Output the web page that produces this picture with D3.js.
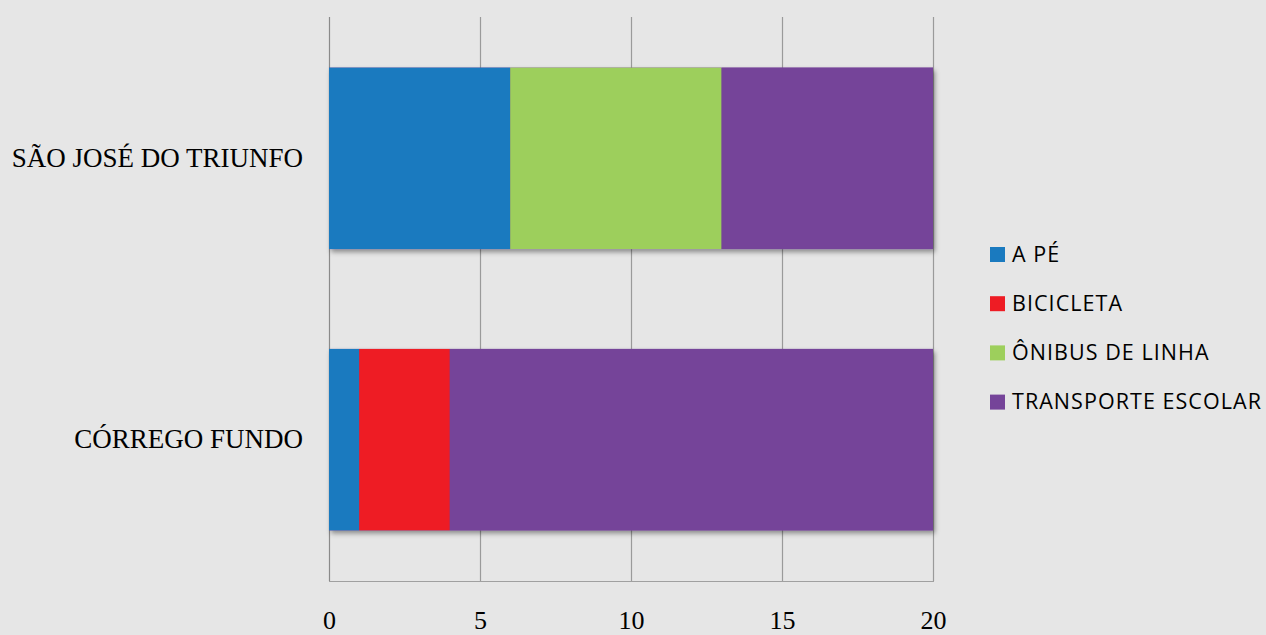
<!DOCTYPE html>
<html>
<head>
<meta charset="utf-8">
<script src="https://cdn.jsdelivr.net/npm/d3@7"></script>
<style>
  html, body { margin: 0; padding: 0; background: #e6e6e6; }
  svg { display: block; }
</style>
</head>
<body>
<svg id="chart" width="1266" height="635"></svg>
<script>
// Locations (top to bottom) and how students get to school
const categories = ["SÃO JOSÉ DO TRIUNFO", "CÓRREGO FUNDO"];
const seriesNames = ["A PÉ", "BICICLETA", "ÔNIBUS DE LINHA", "TRANSPORTE ESCOLAR"];
const seriesColors = ["#1a7abf", "#ee1c24", "#9dcf5c", "#754499"];
// Values per series, in the order of categories
const aPe = [6, 1];
const bicicleta = [0, 3];
const onibusDeLinha = [7, 0];
const transporteEscolar = [7, 16];
const xTicks = [0, 5, 10, 15, 20];

const seriesValues = [aPe, bicicleta, onibusDeLinha, transporteEscolar];
const rows = categories.map((c, i) => {
  const r = { category: c };
  seriesNames.forEach((s, k) => { r[s] = seriesValues[k][i]; });
  return r;
});

const svg = d3.select("#chart");
const plot = { left: 329, right: 933, top: 17, bottom: 581 };

const x = d3.scaleLinear().domain([0, 20]).range([plot.left, plot.right]);
const y = d3.scaleBand().domain(categories).range([plot.top, plot.bottom]).paddingInner(0.355).paddingOuter(0.18);

// soft shadow under each bar
const defs = svg.append("defs");
const f = defs.append("filter").attr("id", "shadow").attr("x", "-5%").attr("y", "-10%").attr("width", "115%").attr("height", "130%");
f.append("feDropShadow").attr("dx", 2).attr("dy", 3).attr("stdDeviation", 2.4).attr("flood-color", "#000").attr("flood-opacity", 0.4);

// vertical gridlines
svg.append("g").selectAll("line").data(xTicks).join("line")
  .attr("x1", d => x(d) + 0.5).attr("x2", d => x(d) + 0.5)
  .attr("y1", plot.top).attr("y2", plot.bottom)
  .attr("stroke", d => d === 0 ? "#8a8a8a" : "#9a9a9a").attr("stroke-width", 1.2);

// bottom axis line
svg.append("line")
  .attr("x1", plot.left).attr("x2", plot.right + 1)
  .attr("y1", plot.bottom + 0.5).attr("y2", plot.bottom + 0.5)
  .attr("stroke", "#a0a0a0").attr("stroke-width", 1.2);

// stacked bars (a full-length backing rect carries the shadow)
const stack = d3.stack().keys(seriesNames)(rows);
const barsG = svg.append("g");
barsG.append("g").selectAll("rect").data(rows).join("rect")
  .attr("x", x(0))
  .attr("y", d => y(d.category))
  .attr("width", d => x(d3.sum(seriesNames, s => d[s])) - x(0))
  .attr("height", y.bandwidth())
  .attr("fill", seriesColors[3])
  .attr("filter", "url(#shadow)");
stack.forEach((layer, k) => {
  barsG.append("g").selectAll("rect").data(layer.filter(d => d[1] > d[0])).join("rect")
    .attr("x", d => x(d[0]))
    .attr("y", d => y(d.data.category))
    .attr("width", d => x(d[1]) - x(d[0]))
    .attr("height", y.bandwidth())
    .attr("fill", seriesColors[k]);
});

const serif = "'Liberation Serif', 'Times New Roman', serif";

// x tick labels
const xAxis = d3.axisBottom(x).tickValues(xTicks).tickSize(0).tickPadding(0);
const gx = svg.append("g").attr("transform", `translate(0, 629)`).call(xAxis);
gx.select(".domain").remove();
gx.selectAll("text")
  .attr("font-family", serif)
  .attr("font-size", 26).attr("fill", "#000").attr("y", 0).attr("dy", 0);

// category labels
const yAxis = d3.axisLeft(y).tickSize(0).tickPadding(26);
const gy = svg.append("g").attr("transform", `translate(${plot.left}, 0)`).call(yAxis);
gy.select(".domain").remove();
gy.selectAll("text")
  .attr("font-family", serif)
  .attr("font-size", 27).attr("fill", "#000");

// legend
const legend = svg.append("g").attr("transform", "translate(990, 254)");
const items = legend.selectAll("g").data(seriesNames).join("g")
  .attr("transform", (d, i) => `translate(0, ${i * 49.2})`);
items.append("rect").attr("x", 0).attr("y", -7).attr("width", 15).attr("height", 15)
  .attr("fill", (d, i) => seriesColors[i]);
items.append("text").attr("x", 22).attr("y", 0).attr("dy", "0.36em")
  .attr("font-family", "'Open Sans', sans-serif").attr("font-size", 21.5)
  .attr("letter-spacing", 1.05).attr("fill", "#000")
  .text(d => d);
</script>
</body>
</html>
